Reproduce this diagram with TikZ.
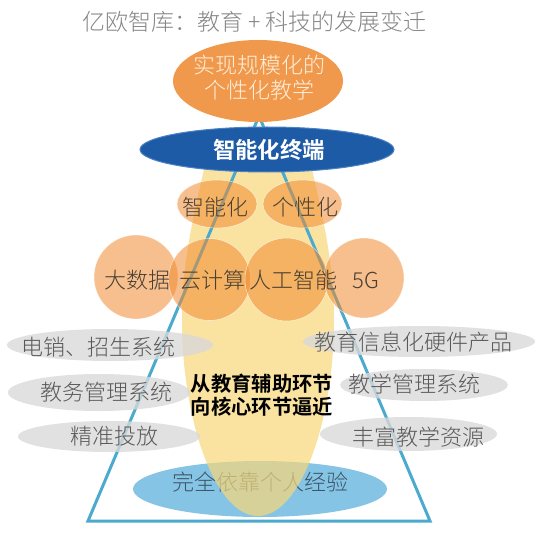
\documentclass[tikz,border=0pt]{standalone}
\usepackage{fontspec}
\setmainfont{Noto Sans CJK SC Light}[BoldFont={Noto Sans CJK SC Bold}]
\definecolor{baseblue}{HTML}{85C4E5}
\definecolor{basetext}{HTML}{3D5466}
\definecolor{yellowc}{HTML}{F8D778}
\definecolor{tric}{HTML}{4BAACE}
\definecolor{greyc}{HTML}{D9D9D9}
\definecolor{greytext}{HTML}{595959}
\definecolor{orangec}{HTML}{F08A30}
\definecolor{circtext}{HTML}{4A3F33}
\definecolor{darkblue}{HTML}{1D5BA7}
\definecolor{darkblueedge}{HTML}{4A82C4}
\definecolor{toporange}{HTML}{F0984B}
\definecolor{toptext}{HTML}{FFF0DC}
\definecolor{titlegrey}{HTML}{858585}
\tikzset{
  lbl/.style={inner sep=0pt, align=center, font=\fontsize{22}{25}\selectfont},
  greylbl/.style={lbl, text=greytext},
  circlbl/.style={lbl, text=circtext},
  boldlbl/.style={inner sep=0pt, align=center, font=\fontsize{20.3}{23}\selectfont\bfseries, text=black},
  greyfill/.style={fill=greyc, fill opacity=0.8},
  orangefill/.style={fill=orangec, fill opacity=0.55, draw=white, draw opacity=0.6, line width=0.6pt},
  triline/.style={draw=tric, line width=3pt, line join=miter},
}
\begin{document}
\begin{tikzpicture}[x=1pt,y=-1pt]
\useasboundingbox (0,0) rectangle (541,548);
% base ellipse
\fill[baseblue] (260,489) ellipse [x radius=127, y radius=28];
\node[lbl, text=basetext] (base) at (260,482) {完全依靠个人经验};
% yellow flame
\fill[yellowc, fill opacity=0.7] (206,160) .. controls (194,215) and (182,260) .. (182,320)
  .. controls (182,420) and (215,516) .. (258,516)
  .. controls (301,516) and (334,420) .. (334,320)
  .. controls (334,260) and (322,215) .. (310,160) -- cycle;
% triangle
\draw[triline] (259,116) coordinate (apex) -- (88,521) coordinate (bl) -- (430,521) coordinate (br) -- cycle;
% grey ellipses
\fill[greyfill] (110,345) ellipse [x radius=103, y radius=16];
\fill[greyfill] (99,392.5) ellipse [x radius=91, y radius=18.5];
\fill[greyfill] (109,436.5) ellipse [x radius=91, y radius=15.5];
\fill[greyfill] (419,341.5) ellipse [x radius=116, y radius=15.5];
\fill[greyfill] (424,385) ellipse [x radius=84, y radius=16];
\fill[greyfill] (408.5,434) ellipse [x radius=88.5, y radius=17];
\node[greylbl] (l1) at (98,347) {电销、招生系统};
\node[greylbl] (l2) at (106,392) {教务管理系统};
\node[greylbl] (l3) at (114,436) {精准投放};
\node[greylbl] (r1) at (413,342) {教育信息化硬件产品};
\node[greylbl] (r2) at (414,384) {教学管理系统};
\node[greylbl] (r3) at (418.5,437) {丰富教学资源};
% orange circles
\path[orangefill] (217,204) ellipse [x radius=40, y radius=24];
\path[orangefill] (302.5,204) ellipse [x radius=39.5, y radius=24];
\path[orangefill] (136,277) circle [radius=42];
\path[orangefill] (209.5,279.5) circle [radius=41];
\path[orangefill] (286.5,279.5) circle [radius=41.5];
\path[orangefill] (364,278) circle [radius=40];
\node[circlbl] (zn) at (215,207) {智能化};
\node[circlbl] (gx) at (305,207) {个性化};
\node[circlbl] (dsj) at (137.5,280) {大数据};
\node[circlbl] (yjs) at (212.5,280) {云计算};
\node[circlbl] (rgzn) at (293,280) {人工智能};
\node[circlbl] (fg) at (366,280) {5G};
% bold centre text
\node[boldlbl] (core) at (262,395.5) {从教育辅助环节\\向核心环节逼近};
% dark blue ellipse
\path[fill=darkblue, draw=darkblueedge, line width=1pt] (267,149.5) ellipse [x radius=127, y radius=22.5];
\node[inner sep=0pt, font=\fontsize{22.4}{25}\selectfont\bfseries, text=white] (term) at (269,150) {智能化终端};
% top orange ellipse
\fill[toporange] (258,81) ellipse [x radius=85, y radius=41];
\node[lbl, text=toptext] (goal) at (259.5,77.5) {实现规模化的\\个性化教学};
% title
\node[inner sep=0pt, font=\fontsize{23}{26}\selectfont, text=titlegrey] (title) at (254.5,22) {亿欧智库：教育\hspace{5pt}+\hspace{5pt}科技的发展变迁};
\end{tikzpicture}
\end{document}
